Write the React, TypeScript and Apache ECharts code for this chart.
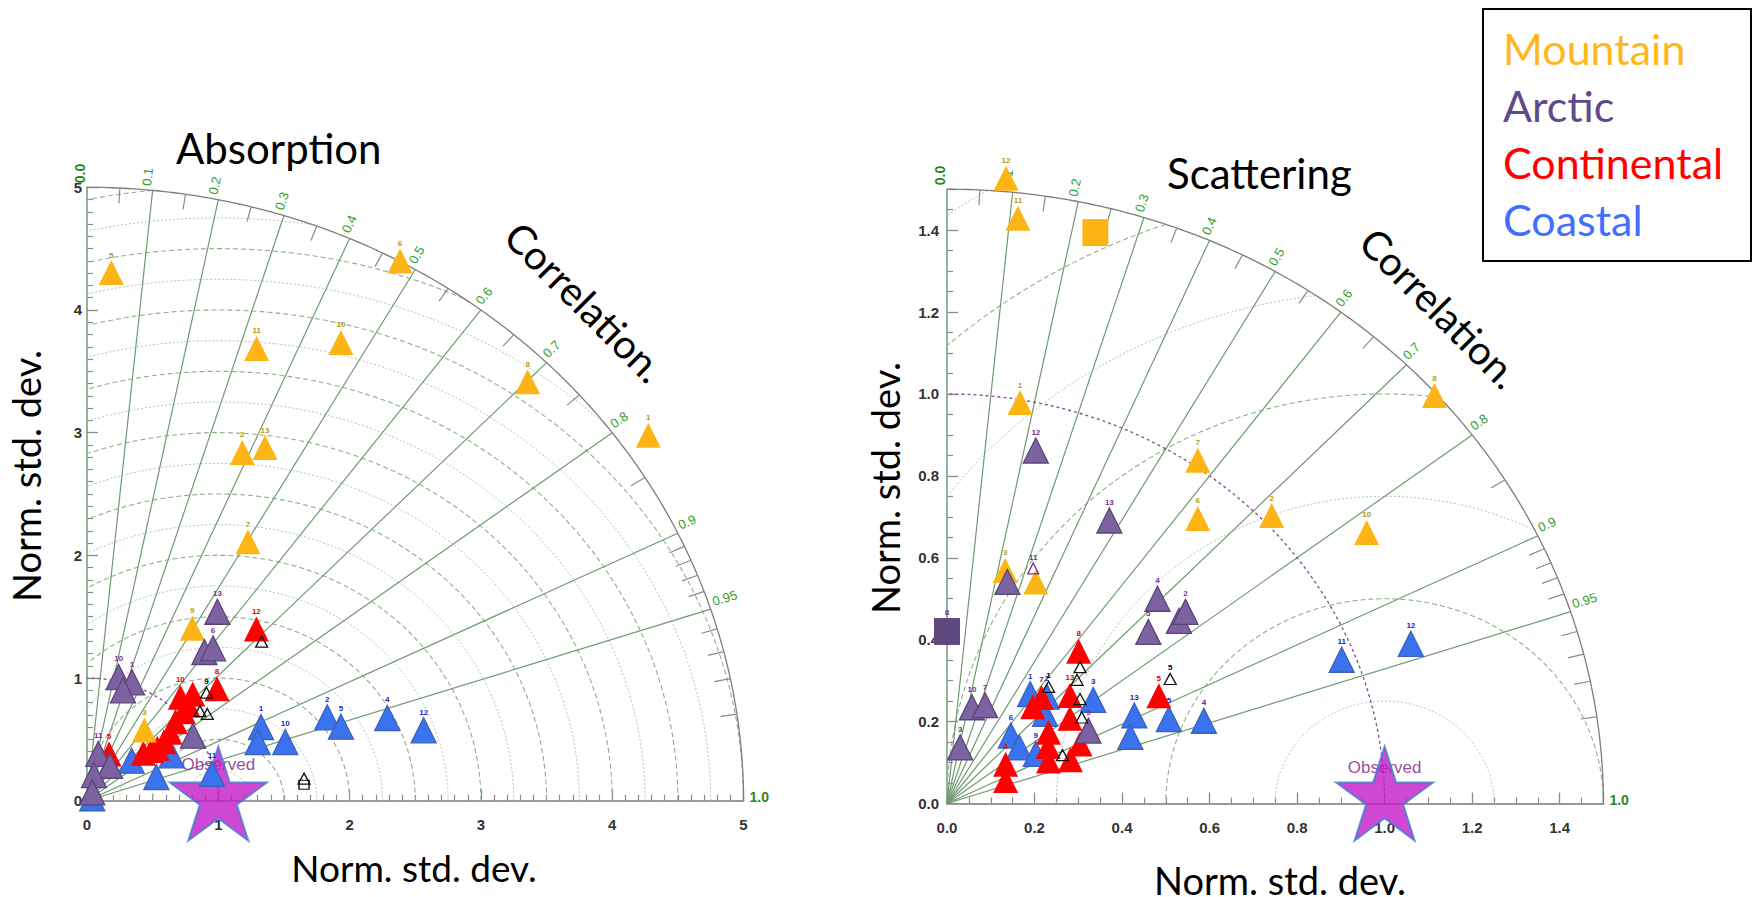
import React, { useEffect, useRef } from 'react';
import * as echarts from 'echarts';

// Each model point: [x component, y component, site number shown above the marker]
type Pt = [number, number, string];

// ---------- Absorption diagram (normalised std. dev., max 5) ----------
const absMountain: Pt[] = [
  [1.183, 2.839, '2'], [1.356, 2.879, '13'], [0.185, 4.305, '5'], [2.384, 4.40, '6'],
  [1.292, 3.687, '11'], [1.934, 3.735, '10'], [3.356, 3.415, '8'], [4.275, 2.978, '1'],
  [1.226, 2.111, '7'], [0.802, 1.405, '9'], [0.437, 0.576, '3'],
];
const absArctic: Pt[] = [
  [0.993, 1.54, '13'], [0.894, 1.212, ''], [0.96, 1.242, '6'], [0.241, 1.008, '10'],
  [0.343, 0.965, '1'], [0.274, 0.90, ''], [0.807, 0.53, ''], [0.086, 0.381, '11'],
  [0.175, 0.285, ''], [0.053, 0.209, ''], [0.04, 0.068, ''],
];
const absContinental: Pt[] = [
  [1.29, 1.40, '12'], [0.99, 0.913, '8'], [0.711, 0.843, '10'], [0.805, 0.87, ''],
  [0.77, 0.78, ''], [0.734, 0.725, ''], [0.673, 0.644, ''], [0.632, 0.557, ''],
  [0.586, 0.481, ''], [0.535, 0.427, ''], [0.49, 0.41, ''], [0.429, 0.386, ''],
  [0.168, 0.381, '5'],
];
const absCoastal: Pt[] = [
  [1.325, 0.60, '1'], [1.30, 0.478, ''], [1.51, 0.478, '10'], [1.83, 0.68, '2'],
  [1.934, 0.603, '5'], [2.287, 0.674, '4'], [2.564, 0.574, '12'], [0.952, 0.218, '11'],
  [0.528, 0.193, '9'], [0.34, 0.326, ''], [0.645, 0.37, ''], [0.04, 0.02, ''],
];
const absOpen: Pt[] = [
  [1.33, 1.296, ''], [0.916, 0.707, ''], [0.91, 0.88, '9'], [0.86, 0.73, ''], [1.653, 0.18, ''],
];
const absOpenSquare: Pt[] = [[1.653, 0.13, '']];

// ---------- Scattering diagram (normalised std. dev., max 1.5) ----------
const scaMountain: Pt[] = [
  [0.135, 1.527, '12'], [0.162, 1.429, '11'], [0.167, 0.979, '1'], [0.573, 0.838, '7'],
  [0.573, 0.696, '6'], [0.742, 0.703, '2'], [0.133, 0.569, '3'], [0.203, 0.541, ''],
  [1.114, 0.996, '8'], [0.959, 0.662, '10'],
];
const scaMountainSquare: Pt[] = [[0.339, 1.394, '']];
const scaArctic: Pt[] = [
  [0.203, 0.862, '12'], [0.371, 0.691, '13'], [0.138, 0.541, ''], [0.481, 0.50, '4'],
  [0.53, 0.446, ''], [0.545, 0.468, '2'], [0.46, 0.419, '5'], [0.057, 0.235, '10'],
  [0.087, 0.24, '7'], [0.03, 0.137, '3'], [0.323, 0.178, '9'],
];
const scaArcticSquare: Pt[] = [[0.0, 0.42, '8']];
const scaArcticOpen: Pt[] = [[0.197, 0.574, '11']];
const scaContinental: Pt[] = [
  [0.301, 0.372, '8'], [0.484, 0.263, '5'], [0.216, 0.259, '7'], [0.196, 0.236, ''],
  [0.281, 0.264, '13'], [0.281, 0.208, ''], [0.232, 0.174, ''], [0.231, 0.139, ''],
  [0.232, 0.104, ''], [0.304, 0.145, ''], [0.282, 0.107, ''], [0.134, 0.096, '4'],
  [0.134, 0.056, ''],
];
const scaCoastal: Pt[] = [
  [0.19, 0.267, '1'], [0.228, 0.261, '2'], [0.224, 0.219, ''], [0.334, 0.253, '3'],
  [0.146, 0.166, '6'], [0.165, 0.137, ''], [0.203, 0.121, '9'], [0.428, 0.215, '13'],
  [0.419, 0.163, ''], [0.507, 0.206, '5'], [0.587, 0.202, '4'], [0.902, 0.351, '11'],
  [1.06, 0.39, '12'],
];
const scaOpen: Pt[] = [
  [0.51, 0.304, '5'], [0.304, 0.333, ''], [0.297, 0.302, ''], [0.232, 0.285, '1'],
  [0.304, 0.255, ''], [0.308, 0.21, ''], [0.264, 0.118, ''],
];

// Reference point
const observedPoint: [number, number] = [1, 0];

// ---------- Diagram scaffolding ----------
const corrLines = [0.1, 0.2, 0.3, 0.4, 0.5, 0.6, 0.7, 0.8, 0.9, 0.95];
const corrLabels: [number, string][] = [
  [0.0, '0.0'], [0.1, '0.1'], [0.2, '0.2'], [0.3, '0.3'], [0.4, '0.4'], [0.5, '0.5'],
  [0.6, '0.6'], [0.7, '0.7'], [0.8, '0.8'], [0.9, '0.9'], [0.95, '0.95'], [1.0, '1.0'],
];
const corrMinor = [0.05, 0.15, 0.25, 0.35, 0.45, 0.55, 0.65, 0.75, 0.85, 0.91, 0.92, 0.93, 0.94, 0.96, 0.97, 0.98, 0.99];
const absRms = [0.25, 0.5, 0.75, 1, 1.25, 1.5, 1.75, 2, 2.25, 2.5, 2.75, 3, 3.25, 3.5, 3.75, 4, 4.25, 4.5, 4.75, 5];
const scaRms = [0.25, 0.5, 0.75, 1, 1.25, 1.5, 1.75];

const legendItems: [string, string][] = [
  ['Mountain', '#FFB81C'],
  ['Arctic', '#5F4B8B'],
  ['Continental', '#FF0000'],
  ['Coastal', '#3F6FFF'],
];

const BIG_FONT = 'Lato, "Open Sans", sans-serif';
const TICK_FONT = '"Liberation Sans", Arial, sans-serif';

const STAR = 'path://M50,0 L61.23,34.55 L97.55,34.55 L68.17,55.9 L79.39,90.45 L50,69.1 L20.61,90.45 L31.83,55.9 L2.45,34.55 L38.77,34.55 Z';

function makeFrame(R: number, rms: number[]) {
  return (_params: any, api: any) => {
    const P = (x: number, y: number) => api.coord([x, y]);
    const kids: any[] = [];
    const N = 720;

    // centred-RMS arcs around the reference point
    rms.forEach((r) => {
      const half = Math.abs(r * 2 - Math.round(r * 2)) < 1e-6;
      const style = half
        ? { stroke: '#8db08d', lineWidth: 1.1, lineDash: [5, 3], fill: 'none' }
        : { stroke: '#b9bfb9', lineWidth: 1, lineDash: [2, 2], fill: 'none' };
      let seg: number[][] = [];
      const flush = () => {
        if (seg.length > 1) kids.push({ type: 'polyline', shape: { points: seg }, style });
        seg = [];
      };
      for (let i = 0; i <= N; i++) {
        const a = (Math.PI * i) / N;
        const x = 1 + r * Math.cos(a);
        const y = r * Math.sin(a);
        if (x >= 0 && x * x + y * y <= R * R) seg.push(P(x, y));
        else flush();
      }
      flush();
    });

    const o = P(0, 0);
    // correlation rays
    corrLines.forEach((c) => {
      const t = Math.acos(c);
      const e = P(R * Math.cos(t), R * Math.sin(t));
      kids.push({
        type: 'line',
        shape: { x1: o[0], y1: o[1], x2: e[0], y2: e[1] },
        style: { stroke: '#6f9a6f', lineWidth: 1.2 },
      });
    });

    // outer arc
    const arc: number[][] = [];
    for (let i = 0; i <= 200; i++) {
      const t = (Math.PI / 2) * (i / 200);
      arc.push(P(R * Math.cos(t), R * Math.sin(t)));
    }
    kids.push({ type: 'polyline', shape: { points: arc }, style: { stroke: '#7d7d7d', lineWidth: 1.3, fill: 'none' } });

    // minor correlation ticks
    corrMinor.forEach((c) => {
      const t = Math.acos(c);
      const a = P(R * Math.cos(t), R * Math.sin(t));
      const b = P(0.975 * R * Math.cos(t), 0.975 * R * Math.sin(t));
      kids.push({
        type: 'line',
        shape: { x1: a[0], y1: a[1], x2: b[0], y2: b[1] },
        style: { stroke: '#8a8a8a', lineWidth: 1.2 },
      });
    });

    // reference std. dev. arc
    const ref: number[][] = [];
    for (let i = 0; i <= 200; i++) {
      const t = (Math.PI / 2) * (i / 200);
      ref.push(P(Math.cos(t), Math.sin(t)));
    }
    kids.push({ type: 'polyline', shape: { points: ref }, style: { stroke: '#86559a', lineWidth: 1.4, lineDash: [3, 3], fill: 'none' } });

    // correlation labels
    corrLabels.forEach(([c, txt]) => {
      const t = Math.acos(c);
      const e = P(R * Math.cos(t), R * Math.sin(t));
      const dx = e[0] - o[0];
      const dy = e[1] - o[1];
      const len = Math.hypot(dx, dy);
      const ang = Math.atan2(-dy, dx);
      const edge = c === 0 || c === 1;
      const gap = c === 1 ? 6 : 4;
      kids.push({
        type: 'text',
        x: e[0] + (dx / len) * gap,
        y: e[1] + (dy / len) * gap + (c === 1 ? 3 : 0),
        rotation: ang,
        style: {
          text: txt,
          fill: edge ? '#1f8a1f' : '#2f9f2f',
          fontSize: edge ? 14 : 13,
          fontWeight: edge ? 'bold' : 'normal',
          fontFamily: TICK_FONT,
          align: 'left',
          verticalAlign: 'bottom',
        },
      });
    });

    return { type: 'group', children: kids };
  };
}

const toItems = (pts: Pt[]) => pts.map((p) => ({ value: [p[0], p[1]], name: p[2] }));

function markers(
  idx: number,
  name: string,
  pts: Pt[],
  symbol: string,
  size: number | number[],
  fill: string,
  border: string | null,
  labelColor: string,
  z: number,
) {
  return {
    type: 'scatter',
    name,
    xAxisIndex: idx,
    yAxisIndex: idx,
    data: toItems(pts),
    symbol,
    symbolSize: size,
    clip: false,
    itemStyle: {
      color: fill,
      opacity: 1,
      borderColor: border || fill,
      borderWidth: border ? 1.3 : 0,
    },
    label: {
      show: true,
      position: 'top',
      distance: 1,
      formatter: '{b}',
      fontSize: 8,
      fontWeight: 'bold',
      fontFamily: TICK_FONT,
      color: labelColor,
    },
    z,
    silent: true,
  };
}

function panelSeries(idx: number, sets: any, starOffset: number) {
  const out: any[] = [
    {
      type: 'custom',
      xAxisIndex: idx,
      yAxisIndex: idx,
      data: [[0, 0]],
      renderItem: makeFrame(sets.R, sets.rms),
      clip: false,
      silent: true,
      z: 1,
    },
    {
      type: 'scatter',
      xAxisIndex: idx,
      yAxisIndex: idx,
      data: [{ value: observedPoint, name: 'Observed' }],
      symbol: 'circle',
      symbolSize: 1,
      clip: false,
      itemStyle: { color: 'rgba(0,0,0,0)' },
      label: {
        show: true,
        position: 'top',
        distance: 27,
        formatter: '{b}',
        fontSize: 17,
        fontFamily: TICK_FONT,
        color: '#7e1884',
      },
      z: 2,
      silent: true,
    },
    {
      type: 'scatter',
      xAxisIndex: idx,
      yAxisIndex: idx,
      data: [observedPoint],
      symbol: STAR,
      symbolSize: [97, 94],
      symbolOffset: [0, starOffset],
      clip: false,
      itemStyle: { color: '#C21AC9', borderColor: '#3F7FCC', borderWidth: 2 },
      z: 3,
      silent: true,
    },
    markers(idx, 'Coastal', sets.coastal, 'triangle', [25, 25], '#3B72EE', '#3a62b8', '#2424c8', 4),
    markers(idx, 'Continental', sets.continental, 'triangle', [25, 25], '#FF0000', null, '#e00000', 5),
    markers(idx, 'Mountain', sets.mountain, 'triangle', [25, 25], '#FDB515', null, '#b39b12', 6),
    markers(idx, 'Arctic', sets.arctic, 'triangle', [25, 25], '#7C62A0', '#5a4578', '#7b2d8b', 7),
  ];
  if (sets.mountainSq) out.push(markers(idx, 'Mountain site', sets.mountainSq, 'rect', [26, 27], '#FDB515', null, '#b39b12', 6));
  if (sets.arcticSq) out.push(markers(idx, 'Arctic site', sets.arcticSq, 'rect', [26, 27], '#5E4A7E', null, '#7b2d8b', 7));
  if (sets.arcticOpen) out.push(markers(idx, 'Arctic open', sets.arcticOpen, 'triangle', [11, 11], 'rgba(255,255,255,0)', '#7b2d8b', '#7b2d8b', 8));
  if (sets.open) out.push(markers(idx, 'Other', sets.open, 'triangle', [12, 11], 'rgba(255,255,255,0)', '#111111', '#000000', 8));
  if (sets.openSq) out.push(markers(idx, 'Other site', sets.openSq, 'rect', [10, 9], 'rgba(255,255,255,0)', '#111111', '#000000', 8));
  return out;
}

function axisPair(idx: number, max: number, interval: number, minor: number, yMargin: number, fmt: (v: number) => string, showMax: boolean) {
  const tickLabel = {
    fontFamily: TICK_FONT,
    fontWeight: 'bold',
    fontSize: 15,
    color: '#333',
    formatter: fmt,
    showMaxLabel: showMax,
  };
  const x = {
    type: 'value',
    gridIndex: idx,
    min: 0,
    max,
    interval,
    axisLine: { show: true, onZero: false, lineStyle: { color: '#9a9a9a', width: 2 } },
    axisTick: { show: true, inside: true, length: 11, lineStyle: { color: '#8a8a8a', width: 1.3 } },
    minorTick: { show: true, splitNumber: minor, length: 6, lineStyle: { color: '#8a8a8a', width: 1.2 } },
    splitLine: { show: false },
    axisLabel: { ...tickLabel, margin: 16 },
  };
  const y = {
    type: 'value',
    gridIndex: idx,
    min: 0,
    max,
    interval,
    axisLine: { show: true, onZero: false, lineStyle: { color: '#7f9f7f', width: 1.6 } },
    axisTick: { show: true, inside: true, length: 11, lineStyle: { color: '#8a8a8a', width: 1.3 } },
    minorTick: { show: true, splitNumber: minor, length: 6, lineStyle: { color: '#8a8a8a', width: 1.2 } },
    splitLine: { show: false },
    axisLabel: { ...tickLabel, margin: yMargin },
  };
  return { x, y };
}

function bigText(text: string, x: number, y: number, size: number, color = '#000', rotation = 0, align = 'left') {
  return {
    type: 'text',
    x,
    y,
    rotation,
    style: { text, fill: color, fontSize: size, fontFamily: BIG_FONT, align, verticalAlign: 'middle' },
    silent: true,
  };
}

export default function App() {
  const ref = useRef<HTMLDivElement>(null);

  useEffect(() => {
    if (!ref.current) return;
    const chart = echarts.init(ref.current, null, { renderer: 'svg' });

    const left = axisPair(0, 5, 1, 10, 5, (v: number) => String(v), true);
    const right = axisPair(1, 1.5, 0.2, 4, 8, (v: number) => v.toFixed(1), false);

    const graphic: any[] = [
      bigText('Absorption', 176, 148, 42),
      bigText('Scattering', 1167, 173, 42),
      bigText('Correlation.', 585, 302, 40, '#000', -Math.PI / 4, 'center'),
      bigText('Correlation.', 1440, 308, 40, '#000', -Math.PI / 4, 'center'),
      bigText('Norm. std. dev.', 414, 867, 37, '#000', 0, 'center'),
      bigText('Norm. std. dev.', 1280, 880, 38, '#000', 0, 'center'),
      bigText('Norm. std. dev.', 26, 476, 38, '#000', Math.PI / 2, 'center'),
      bigText('Norm. std. dev.', 885, 488, 38, '#000', Math.PI / 2, 'center'),
      {
        type: 'rect',
        shape: { x: 1483, y: 9, width: 268, height: 252 },
        style: { fill: '#fff', stroke: '#000', lineWidth: 2 },
        silent: true,
      },
      ...legendItems.map(([t, c], i) => bigText(t, 1503, 48 + i * 57.3, 43, c)),
    ];

    chart.setOption({
      animation: false,
      backgroundColor: '#ffffff',
      grid: [
        { left: 87, top: 187.3, width: 656.5, height: 613.4 },
        { left: 947, top: 189.2, width: 656.4, height: 614.3 },
      ],
      xAxis: [left.x, right.x],
      yAxis: [left.y, right.y],
      series: [
        ...panelSeries(0, {
          R: 5,
          rms: absRms,
          mountain: absMountain,
          arctic: absArctic,
          continental: absContinental,
          coastal: absCoastal,
          open: absOpen,
          openSq: absOpenSquare,
        }, -7),
        ...panelSeries(1, {
          R: 1.5,
          rms: scaRms,
          mountain: scaMountain,
          arctic: scaArctic,
          continental: scaContinental,
          coastal: scaCoastal,
          open: scaOpen,
          mountainSq: scaMountainSquare,
          arcticSq: scaArcticSquare,
          arcticOpen: scaArcticOpen,
        }, -10),
      ],
      graphic,
    });

    return () => chart.dispose();
  }, []);

  return <div ref={ref} style={{ position: 'absolute', left: 0, top: 0, width: '1754px', height: '897px' }} />;
}
